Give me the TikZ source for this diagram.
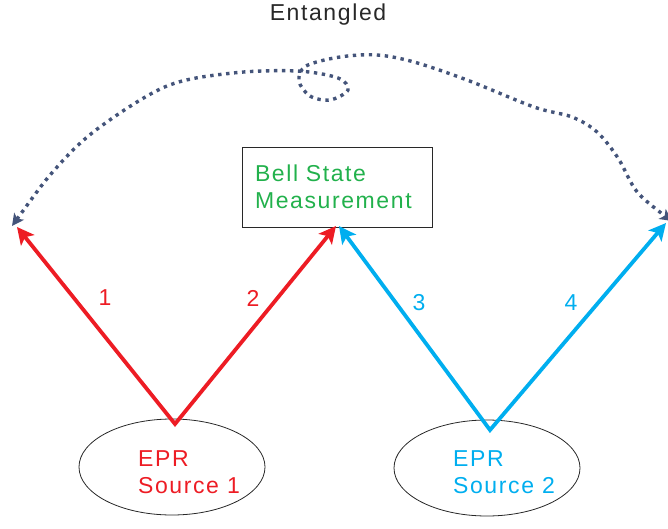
\documentclass[tikz,border=0pt]{standalone}
\usepackage{fontspec}
\setmainfont[LetterSpace=7]{Liberation Sans}
\usetikzlibrary{arrows.meta,shapes.geometric,calc}
\definecolor{eprred}{RGB}{237,28,36}
\definecolor{eprblue}{RGB}{0,174,239}
\definecolor{bsmgreen}{RGB}{34,177,76}
\definecolor{entblue}{RGB}{68,84,122}
\definecolor{edgegray}{RGB}{40,40,40}
\begin{document}
\begin{tikzpicture}[x=1pt,y=-1pt,
  txt/.style={font=\fontsize{23}{27}\selectfont, inner sep=0pt},
  photon/.style={line width=3.8pt, line join=miter, miter limit=10,
    arrows={Stealth[length=17pt,width=17pt,inset=4pt]-Stealth[length=17pt,width=17pt,inset=4pt]}},
  entline/.style={entblue, line width=3.4pt, dash pattern=on 3.4pt off 4.6pt,
    arrows={Stealth[length=12pt,width=12pt,inset=3pt]-Stealth[length=12pt,width=12pt,inset=3pt]}},
  sourcebox/.style={ellipse, draw=edgegray, line width=0.8pt, minimum width=186pt, minimum height=96pt, inner sep=0pt}
]
\useasboundingbox (0,0) rectangle (668,529);

% Sources and measurement station
\node[sourcebox] (src1) at (172,467) {};
\node[sourcebox] (src2) at (487,468) {};
\node[draw=edgegray, line width=0.9pt, minimum width=190pt, minimum height=80pt,
      text width=164pt, align=left, txt, text=bsmgreen] (bsm) at (337,187)
      {Bell State\\Measurement};

\node[txt, text=eprred, align=left] (src1txt) at (189,472) {EPR\\Source 1};
\node[txt, text=eprblue, align=left] (src2txt) at (504,472) {EPR\\Source 2};

% Photon emission points and arrival points
\coordinate (a1) at (175,424);
\coordinate (a2) at (490,430);
\coordinate (t1) at (17,227);
\coordinate (t2) at (336,226);
\coordinate (t3) at (339,226);
\coordinate (t4) at (666,223);

\draw[photon, eprred] (t1) -- (a1) -- (t2);
\draw[photon, eprblue] (t3) -- (a2) -- (t4);

\node[txt, text=eprred] (n1) at (105,298) {1};
\node[txt, text=eprred] (n2) at (253,298) {2};
\node[txt, text=eprblue] (n3) at (419,303) {3};
\node[txt, text=eprblue] (n4) at (571,303) {4};

% Entanglement link between the outer photons
\coordinate (el) at (12,226);
\coordinate (er) at (672,221);
\draw[entline] plot[smooth, tension=0.55] coordinates {
  (el) (58,166) (100,127) (167,86) (233,73) (297,71) (338,78) (348,90)
  (330,100) (310,96) (299,81) (306,66) (340,57) (377,55) (414,62)
  (467,80) (534,107) (572,117) (597,132) (618,158) (638,193) (er)};

\node[txt, text=edgegray] (ent) at (328,15) {Entangled};
\end{tikzpicture}
\end{document}
